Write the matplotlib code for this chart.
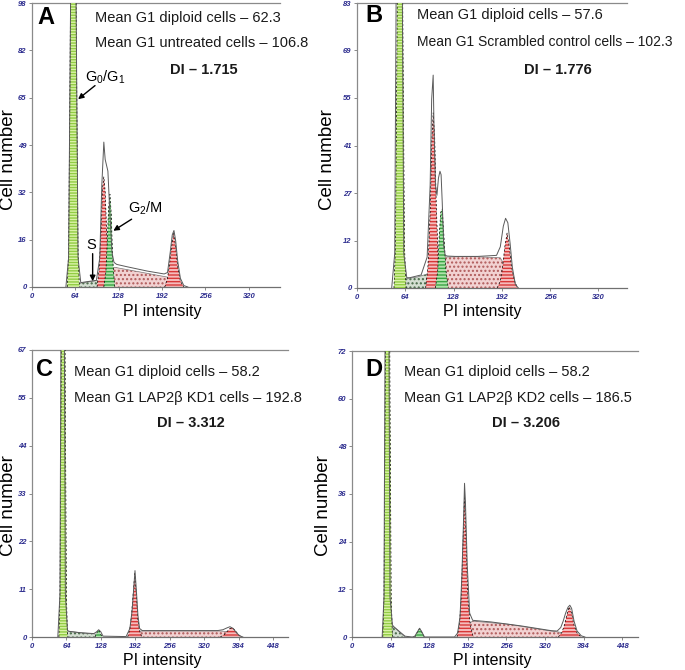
import numpy as np
import matplotlib
matplotlib.use("Agg")
import matplotlib.pyplot as plt

plt.rcParams['font.family'] = ['Liberation Sans', 'DejaVu Sans']
plt.rcParams['mathtext.fontset'] = 'custom'
plt.rcParams['mathtext.rm'] = 'Liberation Sans'
plt.rcParams['mathtext.it'] = 'Liberation Sans:italic'
plt.rcParams['hatch.linewidth'] = 1.0

W, H = 685, 670  # figure size in pixels

# ---------------- panel A (untreated) ----------------
a_g1_x = [52, 54, 56, 58, 61, 64, 66, 68, 70]
a_g1_y = [0, 12, 70, 140, 170, 140, 70, 12, 0]
a_gs_x = [62, 68, 95, 110, 120]
a_gs_y = [0, 1.2, 2.2, 3.0, 0]
a_r1_x = [96, 99, 102, 104, 106, 108, 110, 113, 117]
a_r1_y = [0, 6, 20, 34, 38, 33, 20, 6, 0]
a_g2_x = [106, 109, 111, 113, 115, 117, 119, 122]
a_g2_y = [0, 5, 15, 27, 32, 25, 10, 0]
a_rs_x = [100, 114, 122, 205, 215]
a_rs_y = [0, 6.5, 6.8, 3.2, 0]
a_r2_x = [196, 200, 203, 206, 209, 212, 215, 219, 224]
a_r2_y = [0, 3, 8, 14, 18.5, 14, 7, 2, 0]
a_fit_x = [50, 54, 58, 61, 64, 68, 72, 80, 95, 100, 103, 106, 108, 110, 112, 115,
           118, 121, 125, 140, 170, 195, 200, 204, 207, 209.5, 212, 215, 219, 224, 230]
a_fit_y = [0, 10, 130, 165, 130, 10, 1.5, 1.8, 2.3, 10, 35, 50, 44, 42, 40, 25,
           12, 8.5, 7.8, 7, 5.5, 4.5, 5, 12, 18, 19.5, 16, 9, 3, 0.5, 0]
a_xticks = [0, 64, 128, 192, 256, 320]
a_ylabels = ['0', '16', '32', '49', '65', '82', '98']
a_text = ['Mean G1 diploid cells \u2013 62.3', 'Mean G1 untreated cells \u2013 106.8', 'DI \u2013 1.715']

# ---------------- panel B (scrambled control) ----------------
b_g1_x = [49, 51, 53, 55, 57, 59, 61, 63, 65]
b_g1_y = [0, 12, 70, 140, 170, 140, 70, 12, 0]
b_gs_x = [57, 62, 80, 95, 105, 112]
b_gs_y = [0, 2.6, 3.2, 4.2, 3, 0]
b_r1_x = [91, 94, 97, 99, 101, 103, 105, 108, 112]
b_r1_y = [0, 6, 22, 42, 51, 44, 25, 6, 0]
b_g2_x = [104, 107, 109, 111, 113, 115, 118, 121]
b_g2_y = [0, 5, 15, 22, 23, 16, 5, 0]
b_rs_x = [92, 100, 112, 150, 190, 200, 207]
b_rs_y = [0, 5, 9, 9.2, 8.8, 5, 0]
b_r2_x = [186, 190, 193, 196, 199, 202, 205, 209, 213]
b_r2_y = [0, 2, 6, 12, 16, 12, 6, 2, 0]
b_fit_x = [46, 50, 53, 56, 59, 62, 66, 70, 85, 93, 97, 99, 101, 102, 104, 106, 108, 110,
           111.5, 113, 115, 117, 120, 130, 160, 185, 190, 194, 197, 200, 203, 206, 210, 214]
b_fit_y = [0, 10, 130, 165, 130, 10, 3, 3, 3.8, 9, 30, 55, 62, 48, 30, 27, 32, 34,
           33, 25, 12, 9.5, 9.3, 9.2, 9.2, 9.5, 12, 18, 20.3, 19, 13, 6, 1, 0]
b_xticks = [0, 64, 128, 192, 256, 320]
b_ylabels = ['0', '12', '27', '41', '55', '69', '83']
b_text = ['Mean G1 diploid cells \u2013 57.6', 'Mean G1 Scrambled control cells \u2013 102.3', 'DI \u2013 1.776']

# ---------------- panel C (LAP2b KD1) ----------------
c_g1_x = [50, 52, 54, 56, 58, 60, 62, 64, 66]
c_g1_y = [0, 10, 55, 115, 145, 115, 55, 10, 0]
c_gs_x = [60, 64, 90, 118, 121]
c_gs_y = [0, 1.4, 1.0, 0.7, 0]
c_g2_x = [117, 120, 123, 125, 128, 131]
c_g2_y = [0, 0.8, 1.6, 1.5, 0.6, 0]
c_r1_x = [178, 182, 185, 188, 191, 194, 197, 200, 204]
c_r1_y = [0, 2, 5, 10, 14.8, 10, 4, 1.5, 0]
c_rs_x = [188, 195, 250, 350, 370, 378]
c_rs_y = [0, 1.4, 1.4, 1.4, 1.2, 0]
c_r2_x = [350, 357, 363, 368, 373, 378, 384, 390]
c_r2_y = [0, 0.5, 1.3, 2.0, 2.1, 1.5, 0.5, 0]
c_fit_x = [48, 52, 55, 57, 59, 62, 66, 70, 90, 115, 120, 124, 128, 132, 175, 182, 186, 189,
           191.5, 194, 197, 200, 205, 250, 345, 355, 362, 368, 374, 380, 386, 392]
c_fit_y = [0, 10, 110, 145, 110, 10, 1.5, 1.3, 1.0, 0.8, 1.2, 1.7, 1.2, 0.2, 0.1, 2, 6, 11,
           15.5, 11, 5, 2, 1.5, 1.5, 1.5, 1.7, 2.1, 2.4, 2.0, 1.0, 0.3, 0]
c_xticks = [0, 64, 128, 192, 256, 320, 384, 448]
c_ylabels = ['0', '11', '22', '33', '44', '55', '67']
c_text = ['Mean G1 diploid cells \u2013 58.2', 'Mean G1 LAP2\u03b2 KD1 cells \u2013 192.8', 'DI \u2013 3.312']

# ---------------- panel D (LAP2b KD2) ----------------
d_g1_x = [51, 53, 55, 57, 59, 61, 63, 65, 67]
d_g1_y = [0, 10, 60, 125, 155, 125, 60, 10, 0]
d_gs_x = [60, 64, 72, 84, 88]
d_gs_y = [0, 3.0, 2.2, 0.5, 0]
d_g2_x = [104, 107, 110, 112, 114, 117, 120]
d_g2_y = [0, 0.8, 1.8, 2.1, 1.8, 0.8, 0]
d_r1_x = [174, 178, 181, 184, 186.5, 189, 192, 196, 201]
d_r1_y = [0, 3, 10, 24, 36, 25, 10, 3, 0]
d_rs_x = [180, 190, 200, 260, 330, 345, 352]
d_rs_y = [0, 3, 4, 3.2, 1.5, 1.2, 0]
d_r2_x = [342, 348, 352, 356, 360, 364, 368, 373, 380]
d_r2_y = [0, 1.2, 3, 5.5, 7.6, 6, 3, 1, 0]
d_fit_x = [50, 53, 56, 58, 60, 63, 67, 70, 80, 88, 100, 104, 108, 112, 116, 120, 170, 175,
           179, 182, 185, 186.5, 188, 191, 195, 200, 230, 280, 330, 340, 346, 350, 354, 358,
           361, 364, 368, 373, 380, 386]
d_fit_y = [0, 10, 120, 160, 120, 10, 3, 2.5, 1.2, 0.2, 0, 0.2, 1.2, 2.2, 1.2, 0, 0, 1,
           5, 15, 30, 38.7, 34, 18, 6, 4.2, 3.8, 2.8, 1.6, 1.5, 2.4, 4, 6, 7.5,
           8, 7.2, 4, 1.5, 0.3, 0]
d_xticks = [0, 64, 128, 192, 256, 320, 384, 448]
d_ylabels = ['0', '12', '24', '36', '48', '60', '72']
d_text = ['Mean G1 diploid cells \u2013 58.2', 'Mean G1 LAP2\u03b2 KD2 cells \u2013 186.5', 'DI \u2013 3.206']

# fill colour, hatch colour, hatch pattern, z order
styles = {
    'rs': ('#f2d2d2', '#b05a5a', '....', 1),
    'gs': ('#d4ded2', '#466846', '....', 1),
    'r1': ('#f5bcbc', '#d83838', '-----', 2),
    'g2': ('#b0e2ac', '#3aa544', '-----', 3),
    'g1': ('#daf3a8', '#92cc44', '------', 3),
}


def fx(px):
    return px / W


def fy(py):
    return 1 - py / H


def make_axes(fig, left, top, right, bottom):
    return fig.add_axes([fx(left), fy(bottom), (right - left) / W, (bottom - top) / H])


def draw(ax, parts, fit_x, fit_y, xmax, ymax, xticks, ylabels):
    for x, y, kind in parts:
        face, hcol, hatch, z = styles[kind]
        ax.fill(x, y, facecolor=face, edgecolor=hcol, hatch=hatch, linewidth=0, zorder=z)
        if kind in ('rs', 'gs'):
            ax.plot(x, y, color='#777777', lw=0.5, zorder=z)
        else:
            ax.plot(x, y, color='black', lw=0.5, ls=(0, (3, 3)), zorder=z + 0.1)
    ax.plot(fit_x, fit_y, color='#5a5a5a', lw=0.7, zorder=5)
    ax.set_xlim(0, xmax)
    ax.set_ylim(0, ymax)
    ax.set_xticks(xticks)
    ax.set_xticklabels([str(t) for t in xticks])
    ax.set_yticks(np.linspace(0, ymax, 7))
    ax.set_yticklabels(ylabels)
    for lab in ax.get_xticklabels() + ax.get_yticklabels():
        lab.set_fontsize(5.5)
        lab.set_fontweight('bold')
        lab.set_fontstyle('italic')
        lab.set_color('#2c2c8e')
    ax.tick_params(length=2, width=0.6, color='#777777', pad=2)
    ax.spines['right'].set_visible(False)
    for s in ('left', 'top', 'bottom'):
        ax.spines[s].set_color('#8a8a8a')
        ax.spines[s].set_linewidth(0.9)
    ax.spines['bottom'].set_color('#707070')


def parts_of(*groups):
    return [(groups[i], groups[i + 1], groups[i + 2]) for i in range(0, len(groups), 3)]


fig = plt.figure(figsize=(W / 100, H / 100), dpi=100)
fig.patch.set_facecolor('white')

panels = [
    # letter, axes box (px), xmax, ymax, parts, fit, ticks, text, text positions, label positions
    ('A', (32, 3, 280, 287), 366, 98,
     parts_of(a_rs_x, a_rs_y, 'rs', a_gs_x, a_gs_y, 'gs', a_r1_x, a_r1_y, 'r1',
              a_r2_x, a_r2_y, 'r1', a_g2_x, a_g2_y, 'g2', a_g1_x, a_g1_y, 'g1'),
     a_fit_x, a_fit_y, a_xticks, a_ylabels, a_text, 10.5,
     (37, 18), (95, 18, 43), (204, 70), (9, 160), (162, 311)),
    ('B', (357, 3, 627, 288), 358, 83,
     parts_of(b_rs_x, b_rs_y, 'rs', b_gs_x, b_gs_y, 'gs', b_r1_x, b_r1_y, 'r1',
              b_r2_x, b_r2_y, 'r1', b_g2_x, b_g2_y, 'g2', b_g1_x, b_g1_y, 'g1'),
     b_fit_x, b_fit_y, b_xticks, b_ylabels, b_text, 10.0,
     (365, 16), (417, 15, 42), (558, 70), (327, 160), (482, 311)),
    ('C', (32, 350, 288, 637), 476, 67,
     parts_of(c_rs_x, c_rs_y, 'rs', c_gs_x, c_gs_y, 'gs', c_r1_x, c_r1_y, 'r1',
              c_r2_x, c_r2_y, 'r1', c_g2_x, c_g2_y, 'g2', c_g1_x, c_g1_y, 'g1'),
     c_fit_x, c_fit_y, c_xticks, c_ylabels, c_text, 10.5,
     (36, 370), (74, 372, 398), (191, 423), (9, 506), (162, 661)),
    ('D', (352, 351, 638, 637), 474, 72,
     parts_of(d_rs_x, d_rs_y, 'rs', d_gs_x, d_gs_y, 'gs', d_r1_x, d_r1_y, 'r1',
              d_r2_x, d_r2_y, 'r1', d_g2_x, d_g2_y, 'g2', d_g1_x, d_g1_y, 'g1'),
     d_fit_x, d_fit_y, d_xticks, d_ylabels, d_text, 10.5,
     (365, 370), (404, 372, 398), (526, 423), (324, 506), (492, 661)),
]

axes = {}
for (letter, box, xmax, ymax, parts, fx_, fy_, xt, yl, txt, line2_size,
     lpos, tpos, dipos, ylpos, xlpos) in panels:
    ax = make_axes(fig, *box)
    draw(ax, parts, fx_, fy_, xmax, ymax, xt, yl)
    axes[letter] = ax
    fig.text(fx(lpos[0]), fy(lpos[1]), letter, fontsize=17, fontweight='bold',
             ha='left', va='center')
    fig.text(fx(tpos[0]), fy(tpos[1]), txt[0], fontsize=10.5, ha='left', va='center', color='#1a1a1a')
    fig.text(fx(tpos[0]), fy(tpos[2]), txt[1], fontsize=line2_size, ha='left', va='center', color='#1a1a1a')
    fig.text(fx(dipos[0]), fy(dipos[1]), txt[2], fontsize=10.5, fontweight='bold',
             ha='center', va='center', color='#1a1a1a')
    fig.text(fx(ylpos[0]), fy(ylpos[1]), 'Cell number', fontsize=13.5, rotation=90,
             ha='center', va='center')
    fig.text(fx(xlpos[0]), fy(xlpos[1]), 'PI intensity', fontsize=11.5,
             ha='center', va='center')

# phase labels with arrows in panel A
ax = axes['A']
arrow = dict(arrowstyle='-|>', color='black', lw=1.0, mutation_scale=8, shrinkA=0, shrinkB=0)
ax.annotate('', xy=(68, 64.8), xytext=(93, 69.5), arrowprops=arrow, zorder=6)
ax.text(78, 72.5, 'G$_0$/G$_1$', fontsize=10.5, ha='left', va='center')
ax.annotate('', xy=(120, 19.4), xytext=(147, 23.4), arrowprops=arrow, zorder=6)
ax.text(141, 27, 'G$_2$/M', fontsize=10.5, ha='left', va='center')
ax.annotate('', xy=(89.5, 2.0), xytext=(89.5, 11.5), arrowprops=arrow, zorder=6)
ax.text(87, 14.5, 'S', fontsize=10.5, ha='center', va='center')

fig.savefig('out.png', dpi=100, facecolor='white')
